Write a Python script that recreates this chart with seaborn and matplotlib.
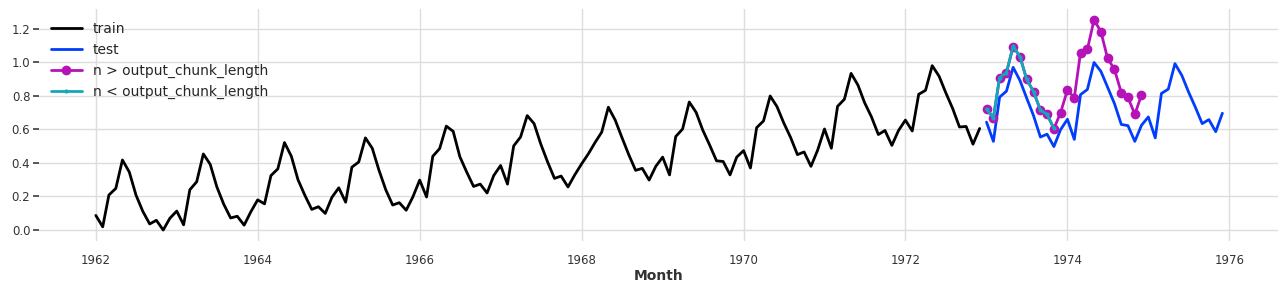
import numpy as np
import pandas as pd
import matplotlib
matplotlib.use("Agg")
import matplotlib.pyplot as plt
import matplotlib.dates as mdates
import seaborn as sns

# Scaled monthly values (train: 1962-01 .. 1972-12)
train_values = [
    0.087, 0.019, 0.209, 0.248, 0.418, 0.346, 0.209, 0.111, 0.036, 0.058, 0.000, 0.070,
    0.113, 0.031, 0.240, 0.288, 0.454, 0.392, 0.257, 0.154, 0.072, 0.082, 0.029, 0.108,
    0.180, 0.156, 0.325, 0.365, 0.522, 0.440, 0.300, 0.207, 0.123, 0.139, 0.099, 0.195,
    0.252, 0.166, 0.375, 0.406, 0.550, 0.488, 0.358, 0.240, 0.149, 0.163, 0.118, 0.197,
    0.298, 0.197, 0.440, 0.486, 0.620, 0.589, 0.438, 0.346, 0.260, 0.274, 0.221, 0.325,
    0.385, 0.274, 0.502, 0.555, 0.683, 0.635, 0.514, 0.406, 0.308, 0.322, 0.257, 0.328,
    0.394, 0.455, 0.520, 0.584, 0.733, 0.656, 0.553, 0.450, 0.356, 0.368, 0.298, 0.380,
    0.435, 0.329, 0.558, 0.603, 0.764, 0.702, 0.596, 0.507, 0.413, 0.409, 0.329, 0.435,
    0.474, 0.370, 0.611, 0.651, 0.800, 0.736, 0.640, 0.553, 0.450, 0.466, 0.380, 0.476,
    0.603, 0.488, 0.738, 0.781, 0.935, 0.865, 0.760, 0.675, 0.570, 0.594, 0.505, 0.594,
    0.656, 0.591, 0.810, 0.834, 0.981, 0.918, 0.820, 0.726, 0.615, 0.618, 0.512, 0.606,
]
# Test: 1973-01 .. 1975-12
test_values = [
    0.644, 0.529, 0.793, 0.829, 0.971, 0.892, 0.788, 0.683, 0.555, 0.572, 0.498, 0.599,
    0.661, 0.541, 0.808, 0.839, 1.000, 0.947, 0.853, 0.755, 0.630, 0.623, 0.529, 0.625,
    0.675, 0.550, 0.815, 0.841, 0.993, 0.923, 0.825, 0.733, 0.635, 0.659, 0.587, 0.697,
]
# Forecast with n > output_chunk_length: 1973-01 .. 1974-12
pred_long = [
    0.722, 0.670, 0.910, 0.940, 1.095, 1.035, 0.900, 0.826, 0.716, 0.690, 0.605, 0.700,
    0.836, 0.790, 1.059, 1.079, 1.254, 1.184, 1.025, 0.959, 0.820, 0.792, 0.690, 0.806,
]
# Forecast with n < output_chunk_length: 1973-01 .. 1973-11
pred_short = [
    0.722, 0.670, 0.910, 0.940, 1.098, 1.035, 0.900, 0.826, 0.716, 0.690, 0.607,
]

train_dates = pd.date_range("1962-01-01", periods=len(train_values), freq="MS")
test_dates = pd.date_range("1973-01-01", periods=len(test_values), freq="MS")
long_dates = pd.date_range("1973-01-01", periods=len(pred_long), freq="MS")
short_dates = pd.date_range("1973-01-01", periods=len(pred_short), freq="MS")

sns.set_theme(style="whitegrid")
plt.rcParams["font.family"] = ["DejaVu Sans"]

fig = plt.figure(figsize=(12.88, 2.93), dpi=100)
ax = fig.add_axes([0.030, 0.179, 0.9626, 0.789])

sns.lineplot(x=train_dates, y=train_values, ax=ax, color="black", lw=2, label="train")
sns.lineplot(x=test_dates, y=test_values, ax=ax, color="#003DFD", lw=2, label="test")
sns.lineplot(x=long_dates, y=pred_long, ax=ax, color="#B512B8", lw=2, marker="o",
             markersize=7, markeredgewidth=0, label="n > output_chunk_length")
sns.lineplot(x=short_dates, y=pred_short, ax=ax, color="#11A9BA", lw=2, marker=".",
             markersize=6, markeredgewidth=0, label="n < output_chunk_length")

ax.set_facecolor("white")
for s in ax.spines.values():
    s.set_visible(False)
ax.grid(True, color="#DDDDDD", lw=1)
ax.set_yticks([0.0, 0.2, 0.4, 0.6, 0.8, 1.0, 1.2])
ax.set_yticklabels(["0.0", "0.2", "0.4", "0.6", "0.8", "1.0", "1.2"])
ax.tick_params(axis="y", which="both", left=True, length=4, color="#444444",
               labelsize=8.5, labelcolor="#333333", pad=2)
ax.tick_params(axis="x", bottom=False, labelsize=8.5, labelcolor="#333333", pad=4)

ax.xaxis.set_major_locator(mdates.YearLocator(2))
ax.xaxis.set_major_formatter(mdates.DateFormatter("%Y"))
ax.set_xlim(pd.Timestamp("1961-04-18"), pd.Timestamp("1976-08-10"))
ax.set_ylim(-0.063, 1.317)
ax.set_xlabel("Month", fontsize=10, fontweight="bold", color="#333333", labelpad=1)
ax.set_ylabel("")

ax.legend(loc="upper left", frameon=False, fontsize=10, handlelength=2.2,
          borderaxespad=0.5, labelspacing=0.5)

fig.savefig("out.png", dpi=100)
